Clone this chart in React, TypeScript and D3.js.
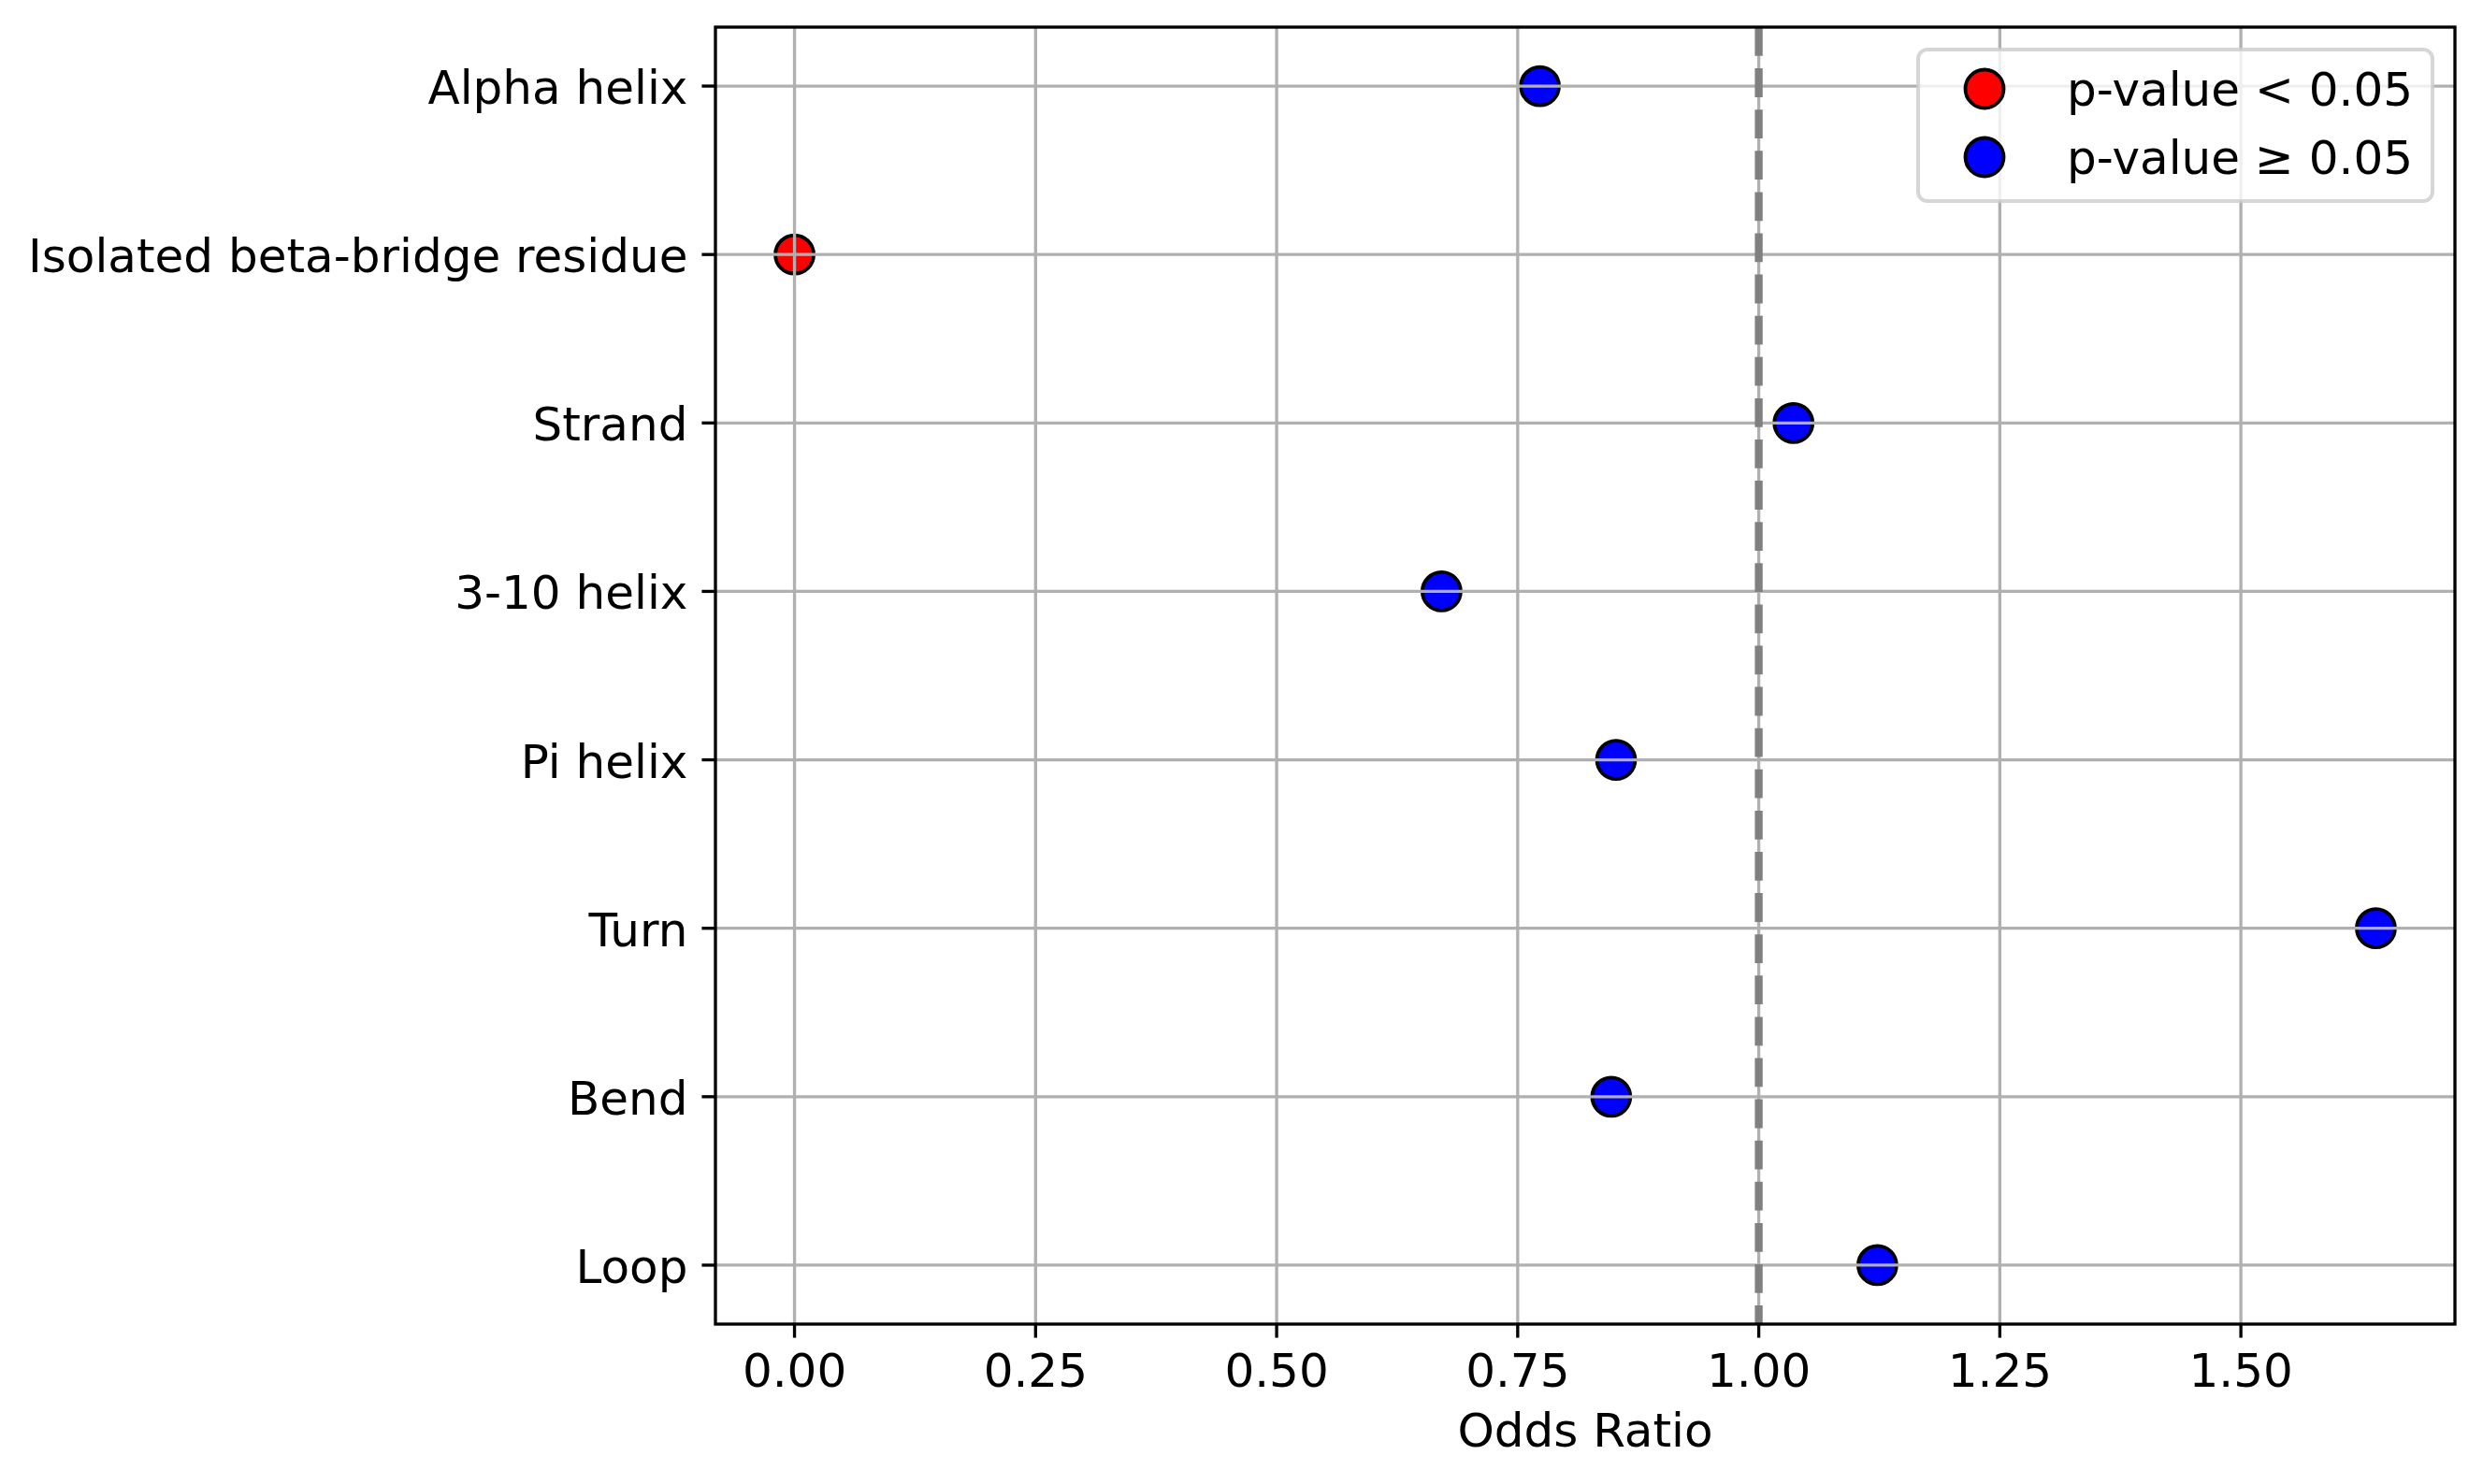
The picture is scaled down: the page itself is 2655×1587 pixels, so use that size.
import React from "react";
import * as d3 from "d3";

const categories = [
  "Alpha helix",
  "Isolated beta-bridge residue",
  "Strand",
  "3-10 helix",
  "Pi helix",
  "Turn",
  "Bend",
  "Loop",
];
const oddsRatios = [0.773, 0.0, 1.036, 0.671, 0.852, 1.64, 0.847, 1.123];
const significant = [false, true, false, false, false, false, false, false];
const xTicks = [0, 0.25, 0.5, 0.75, 1.0, 1.25, 1.5];
const legendLabels = ["p-value < 0.05", "p-value \u2265 0.05"];
const legendColors = ["#ff0000", "#0000ff"];

const W = 2655;
const H = 1587;
const L = 765;
const R = 2625;
const T = 29;
const B = 1416;
const FONT = "'DejaVu Sans', sans-serif";
const FS = 50;

export default function App() {
  const minV = d3.min(oddsRatios) as number;
  const maxV = d3.max(oddsRatios) as number;
  const pad = (maxV - minV) * 0.05;
  const x = d3.scaleLinear().domain([minV - pad, maxV + pad]).range([L, R]);
  const n = categories.length;
  const ypad = (n - 1) * 0.05;
  const y = d3.scaleLinear().domain([-ypad, n - 1 + ypad]).range([T, B]);

  const grid = "#b0b0b0";
  const lw = 3.33;
  const tick = 14.6;

  const lx = 2051, ly = 53, lw2 = 2601 - 2051, lh = 215 - 53;

  return (
    <svg
      width={W}
      height={H}
      style={{ position: "absolute", left: 0, top: 0, background: "#fff" }}
      fontFamily={FONT}
    >
      <rect x={0} y={0} width={W} height={H} fill="#fff" />
      {/* markers */}
      {categories.map((c, i) => (
        <circle
          key={c}
          cx={x(oddsRatios[i])}
          cy={y(i)}
          r={20.5}
          fill={significant[i] ? legendColors[0] : legendColors[1]}
          stroke="#000"
          strokeWidth={3.8}
        />
      ))}
      {/* grid */}
      {xTicks.map((t) => (
        <line key={"gx" + t} x1={x(t)} x2={x(t)} y1={T} y2={B} stroke={grid} strokeWidth={lw} />
      ))}
      {categories.map((c, i) => (
        <line key={"gy" + c} x1={L} x2={R} y1={y(i)} y2={y(i)} stroke={grid} strokeWidth={lw} />
      ))}
      {/* reference line */}
      <line
        x1={x(1)}
        x2={x(1)}
        y1={T}
        y2={B}
        stroke="#808080"
        strokeWidth={8.33}
        strokeDasharray="30.8 13.3"
      />
      {/* spines */}
      <rect x={L} y={T} width={R - L} height={B - T} fill="none" stroke="#000" strokeWidth={lw} />
      {/* x ticks */}
      {xTicks.map((t) => (
        <g key={"xt" + t}>
          <line x1={x(t)} x2={x(t)} y1={B} y2={B + tick} stroke="#000" strokeWidth={lw} />
          <text x={x(t)} y={1483} fontSize={FS} textAnchor="middle" fill="#000">
            {d3.format(".2f")(t)}
          </text>
        </g>
      ))}
      {/* y ticks */}
      {categories.map((c, i) => (
        <g key={"yt" + c}>
          <line x1={L - tick} x2={L} y1={y(i)} y2={y(i)} stroke="#000" strokeWidth={lw} />
          <text x={L - tick - 15} y={y(i) + 19} fontSize={FS} textAnchor="end" fill="#000">
            {c}
          </text>
        </g>
      ))}
      {/* x label */}
      <text x={(L + R) / 2} y={1547} fontSize={FS} textAnchor="middle" fill="#000">
        Odds Ratio
      </text>
      {/* legend */}
      <rect
        x={lx}
        y={ly}
        width={lw2}
        height={lh}
        rx={10}
        ry={10}
        fill="#ffffff"
        fillOpacity={0.8}
        stroke="#cccccc"
        strokeOpacity={0.8}
        strokeWidth={4}
      />
      {legendLabels.map((lab, i) => (
        <g key={lab}>
          <circle
            cx={2122}
            cy={95 + i * 73}
            r={20.5}
            fill={legendColors[i]}
            stroke="#000"
            strokeWidth={3.8}
          />
          <text x={2210} y={95 + i * 73 + 18} fontSize={FS} fill="#000">
            {lab}
          </text>
        </g>
      ))}
    </svg>
  );
}
